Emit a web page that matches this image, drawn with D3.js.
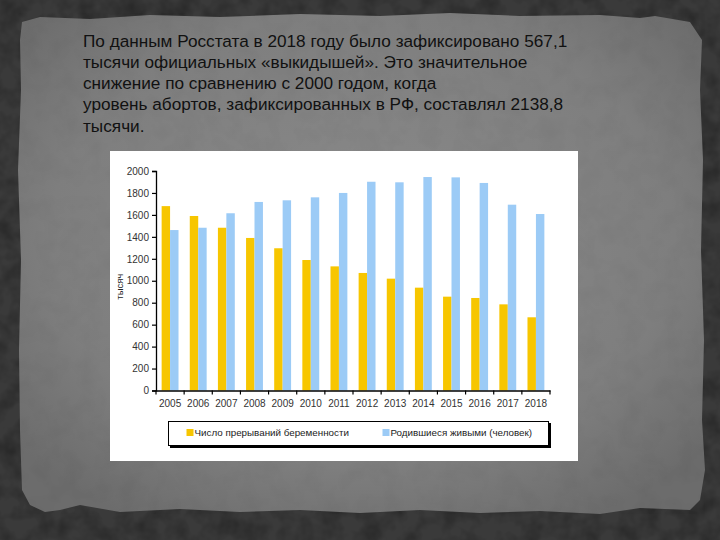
<!DOCTYPE html>
<html><head><meta charset="utf-8">
<script src="https://cdn.jsdelivr.net/npm/d3@7"></script>
<style>html,body{margin:0;padding:0;background:#333;}svg{display:block;}</style>
</head><body>
<script>
const years = ["2005","2006","2007","2008","2009","2010","2011","2012","2013","2014","2015","2016","2017","2018"];
const abortions = [1680,1590,1483,1390,1296,1189,1131,1071,1019,937,855,843,785,667];
const births = [1462,1483,1615,1718,1733,1760,1800,1902,1897,1945,1942,1891,1693,1608];
const yTicks = [0,200,400,600,800,1000,1200,1400,1600,1800,2000];
const seriesNames = ["Число прерываний беременности","Родившиеся живыми (человек)"];
const yTitle = "тысяч";
const paragraph = [
  "По данным Росстата в 2018 году было зафиксировано 567,1",
  "тысячи официальных «выкидышей». Это значительное",
  "снижение по сравнению с 2000 годом, когда",
  "уровень абортов, зафиксированных в РФ, составлял 2138,8",
  "тысячи."
];

const W=720,H=540;
const svg=d3.select("body").append("svg").attr("width",W).attr("height",H);
const defs=svg.append("defs");
const f=defs.append("filter").attr("id","grain").attr("x",0).attr("y",0).attr("width","100%").attr("height","100%");
f.append("feTurbulence").attr("type","fractalNoise").attr("baseFrequency","0.05").attr("numOctaves",3).attr("seed",4).attr("result","n");
f.append("feColorMatrix").attr("type","matrix").attr("values","0 0 0 0 0  0 0 0 0 0  0 0 0 0 0  0 0 0 -1.2 0.75");
const rg=defs.append("radialGradient").attr("id","panelGrad").attr("cx","50%").attr("cy","45%").attr("r","65%");
rg.append("stop").attr("offset","0%").attr("stop-color","#8a8a8a");
rg.append("stop").attr("offset","70%").attr("stop-color","#7e7e7e");
rg.append("stop").attr("offset","100%").attr("stop-color","#6c6c6c");

// frame
svg.append("rect").attr("width",W).attr("height",H).attr("fill","#3a3a3a");
svg.append("rect").attr("width",W).attr("height",H).attr("filter","url(#grain)").attr("opacity",0.45);
// torn panel
const edge=[[22,22],[40,17],[90,19],[150,15],[220,17],[300,14],[380,16],[450,13],[520,16],[600,15],[640,18],[655,16],[690,22],[702,40],[700,90],[703,160],[701,250],[704,340],[702,420],[705,470],[700,500],[690,510],[640,508],[600,514],[540,511],[480,513],[420,510],[360,513],[300,510],[240,512],[180,509],[120,512],[80,505],[60,510],[45,512],[30,505],[22,490],[20,430],[19,350],[21,260],[18,170],[21,90],[20,40]];
svg.append("path").attr("d",d3.line().curve(d3.curveLinearClosed)(edge)).attr("fill","url(#panelGrad)");
svg.append("path").attr("d",d3.line().curve(d3.curveLinearClosed)(edge)).attr("fill","#000").attr("opacity",0.05).attr("filter","url(#grain)");

// paragraph
const baselines=[47,68,89,110,132];
const pg=svg.append("g").attr("font-family","'Liberation Sans', Arial, sans-serif").attr("font-size",17.2).attr("fill","#111");
paragraph.forEach((t,i)=>{ pg.append("text").attr("x",83).attr("y",baselines[i]).text(t); });

// chart box
svg.append("rect").attr("x",110).attr("y",151).attr("width",468).attr("height",310).attr("fill","#ffffff");

const x=d3.scaleBand().domain(years).range([156,550]).paddingInner(0.4).paddingOuter(0.2);
const y=d3.scaleLinear().domain([0,2000]).range([390.5,171]);
const bw=x.bandwidth()/2;
const colors=["#f7c600","#9ccbf6"];
const g=svg.append("g");
g.selectAll(".a").data(years).join("rect").attr("x",d=>x(d)).attr("width",bw).attr("y",(d,i)=>y(abortions[i])).attr("height",(d,i)=>y(0)-y(abortions[i])).attr("fill",colors[0]);
g.selectAll(".b").data(years).join("rect").attr("x",d=>x(d)+bw).attr("width",bw).attr("y",(d,i)=>y(births[i])).attr("height",(d,i)=>y(0)-y(births[i])).attr("fill",colors[1]);

const font="'Liberation Sans Narrow', 'Arial Narrow', 'Liberation Sans', sans-serif";
const ya=svg.append("g").attr("transform","translate(156,0)").call(d3.axisLeft(y).tickValues(yTicks).tickFormat(d3.format("d")).tickSize(4).tickPadding(3));
ya.select(".domain").attr("stroke","#000").attr("stroke-width",1.3);
ya.selectAll(".tick line").attr("stroke","#000").attr("stroke-width",1.2);
ya.selectAll("text").attr("font-family",font).attr("font-size",10).attr("fill","#333");
const xa=svg.append("g").attr("transform",`translate(0,${y(0)})`).call(d3.axisBottom(x).tickSize(0).tickPadding(9));
xa.select(".domain").attr("stroke","#000").attr("stroke-width",1.3);
xa.selectAll("text").attr("font-family",font).attr("font-size",10).attr("fill","#333");
const bounds=[x.range()[0]].concat(years.map(d=>x(d)+x.bandwidth()+x.step()*x.paddingInner()/2));
xa.selectAll(".bt").data(bounds).join("line").attr("x1",d=>d).attr("x2",d=>d).attr("y1",0).attr("y2",4).attr("stroke","#000").attr("stroke-width",1.2);
svg.append("text").attr("transform","translate(122.5,286.7) rotate(-90)").attr("text-anchor","middle").attr("font-family",font).attr("font-size",9.5).attr("fill","#222").text(yTitle);

// legend
svg.append("rect").attr("x",170).attr("y",423).attr("width",381).attr("height",25).attr("fill","#000");
svg.append("rect").attr("x",168.5).attr("y",421.5).attr("width",380).attr("height",24).attr("fill","#fff").attr("stroke","#000").attr("stroke-width",1);
const lx=[186.5,382.5];
seriesNames.forEach((n,i)=>{
  svg.append("rect").attr("x",lx[i]).attr("y",429).attr("width",7).attr("height",7).attr("fill",colors[i]);
  svg.append("text").attr("x",lx[i]+8).attr("y",436).attr("font-family",font).attr("font-size",9.8).attr("fill","#222").text(n);
});
</script>
</body></html>
